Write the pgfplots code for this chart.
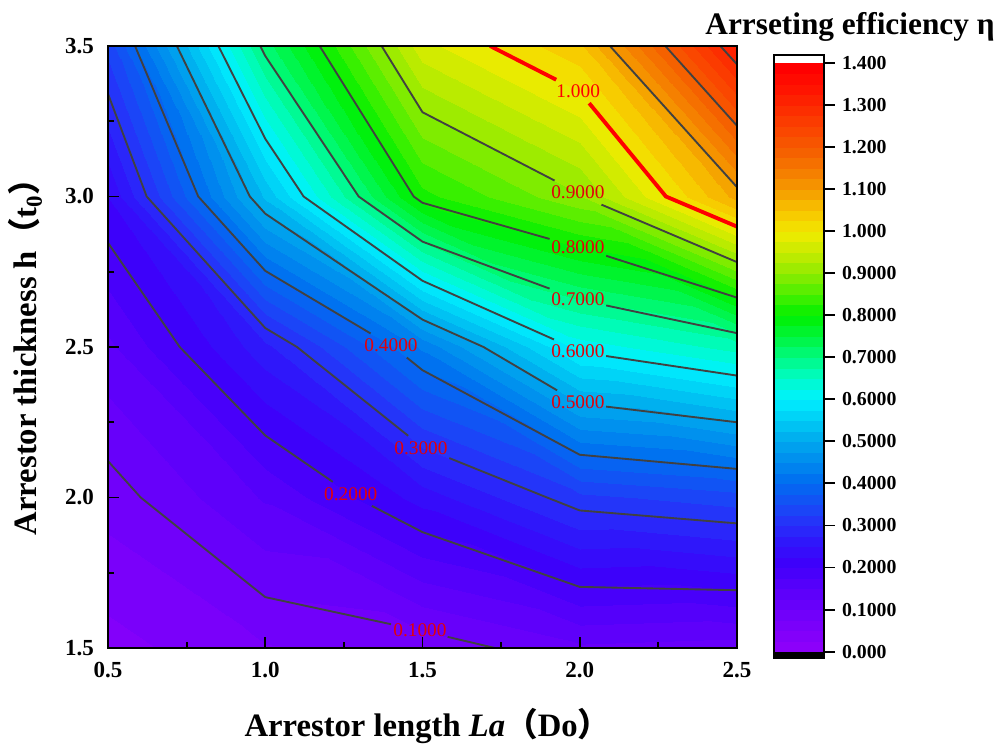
\documentclass[border=0pt]{standalone}
\usepackage{pgfplots}
\pgfplotsset{compat=1.18}
\usepackage{fontspec}
\setmainfont{Liberation Serif}
\newfontfamily\cjk{Noto Sans CJK SC}
\definecolor{clgray}{RGB}{65,65,65}
\definecolor{labred}{RGB}{225,0,10}
\pgfplotsset{
  colormap={origin}{
    rgb255=(140,0,250) rgb255=(122,0,250) rgb255=(104,0,250) rgb255=(85,0,250)
    rgb255=(62,0,250) rgb255=(48,20,250) rgb255=(38,50,250) rgb255=(20,80,245)
    rgb255=(0,110,240) rgb255=(0,140,238) rgb255=(0,170,238) rgb255=(0,205,245)
    rgb255=(0,240,255) rgb255=(0,252,200) rgb255=(0,250,130) rgb255=(0,245,60)
    rgb255=(0,240,0) rgb255=(70,240,0) rgb255=(140,235,0) rgb255=(195,235,0)
    rgb255=(240,235,0) rgb255=(248,200,0) rgb255=(245,160,0) rgb255=(245,125,0)
    rgb255=(245,95,0) rgb255=(250,70,0) rgb255=(252,45,0) rgb255=(255,20,0)
    rgb255=(255,0,0)
  },
  colormap={bands}{samples of colormap=(56 of origin)},
  cl/.style={color=clgray, line width=1.4pt, no marks},
}
\tikzset{clab/.style={text=labred, font=\fontsize{14.5}{16}\selectfont, inner sep=0pt}}
\begin{document}
\begin{tikzpicture}
\useasboundingbox (-81pt,-76.5pt) rectangle (672pt,486pt);
\begin{axis}[
  at={(0pt,0pt)}, anchor=south west,
  scale only axis, width=471.75pt, height=451.5pt,
  xmin=0.5, xmax=2.5, ymin=1.5, ymax=3.5,
  xtick={0.5,1.0,1.5,2.0,2.5}, ytick={1.5,2.0,2.5,3.0,3.5},
  minor x tick num=1, minor y tick num=1,
  xtick pos=left, ytick pos=left,
  tick align=inside,
  major tick length=8pt, minor tick length=4.5pt,
  every tick/.style={black, line width=1.4pt},
  axis line style={line width=2pt},
  axis on top,
  colormap name=bands, colormap access=piecewise constant,
  point meta min=0, point meta max=1.4,
  unbounded coords=jump,
  /pgf/number format/fixed, /pgf/number format/fixed zerofill,
  /pgf/number format/precision=1, /pgf/number format/assume math mode=true,
  tick label style={font=\bfseries\fontsize{17.25}{20}\selectfont},
  xticklabel style={yshift=-7pt},
  yticklabel style={xshift=-7pt},
  xlabel={Arrestor length \textit{La}{\cjk （}Do{\cjk ）}},
  ylabel={Arrestor thickness h{\cjk （}t\textsubscript{0}{\cjk ）}},
  label style={font=\bfseries\fontsize{24.5}{28}\selectfont},
  xlabel style={at={(axis description cs:0.508,-0.147)}, anchor=base},
  ylabel style={at={(axis description cs:-0.113,0.497)}, anchor=base},
]
\addplot[surf, shader=interp, mesh/cols=5, point meta=\thisrow{z}] table {
x y z
0.5 1.5 0.040
1.0 1.5 0.073
1.5 1.5 0.083
2.0 1.5 0.120
2.5 1.5 0.113
0.5 2.0 0.086
1.0 2.0 0.153
1.5 2.0 0.235
2.0 2.0 0.317
2.5 2.0 0.339
0.5 2.5 0.144
1.0 2.5 0.267
1.5 2.5 0.430
2.0 2.5 0.610
2.5 2.5 0.661
0.5 3.0 0.225
1.0 3.0 0.530
1.5 3.0 0.816
2.0 3.0 0.897
2.5 3.0 1.085
0.5 3.5 0.335
1.0 3.5 0.712
1.5 3.5 0.966
2.0 3.5 1.045
2.5 3.5 1.330
};
% contour lines (level 0.1 ... 1.3)
\addplot[cl] coordinates {(0.5,2.121) (0.604,2.0) (1.0,1.669) (1.40,1.579) (nan,nan) (1.58,1.537) (1.73,1.5)};
\addplot[cl] coordinates {(0.5,2.846) (0.728,2.5) (1.0,2.206) (1.2145,2.052) (nan,nan) (1.339,1.972) (1.5,1.885) (2.0,1.703) (2.5,1.692)};
\addplot[cl] coordinates {(0.5,3.341) (0.623,3.0) (1.0,2.563) (1.101,2.5) (1.4545,2.205) (nan,nan) (1.585,2.131) (1.896,2.0) (2.0,1.957) (2.5,1.914)};
\addplot[cl] coordinates {(0.586,3.5) (0.787,3.0) (1.0,2.753) (1.335,2.545) (nan,nan) (1.450,2.465) (1.5,2.423) (2.0,2.142) (2.5,2.095)};
\addplot[cl] coordinates {(0.719,3.5) (0.951,3.0) (1.0,2.943) (1.5,2.591) (1.694,2.5) (1.928,2.356) (nan,nan) (2.084,2.302) (2.5,2.25)};
\addplot[cl] coordinates {(0.851,3.5) (1.0,3.192) (1.122,3.0) (1.5,2.720) (1.918,2.525) (nan,nan) (2.084,2.470) (2.5,2.405)};
\addplot[cl] coordinates {(0.984,3.5) (1.0,3.467) (1.297,3.0) (1.5,2.850) (1.904,2.694) (nan,nan) (2.084,2.638) (2.5,2.546)};
\addplot[cl] coordinates {(1.173,3.5) (1.472,3.0) (1.5,2.979) (1.904,2.859) (nan,nan) (2.084,2.803) (2.5,2.664)};
\addplot[cl] coordinates {(1.370,3.5) (1.5,3.28) (1.920,3.053) (nan,nan) (2.069,2.973) (2.5,2.782)};
\addplot[color=red, line width=2.9pt, no marks] coordinates {(1.715,3.5) (1.925,3.388) (nan,nan) (2.030,3.31) (2.274,3.0) (2.5,2.9)};
\addplot[cl] coordinates {(2.096,3.5) (2.5,3.031)};
\addplot[cl] coordinates {(2.272,3.5) (2.5,3.235)};
\addplot[cl] coordinates {(2.447,3.5) (2.5,3.439)};
% contour labels
\node[clab] at (axis cs:1.492,1.558) {0.1000};
\node[clab] at (axis cs:1.272,2.012) {0.2000};
\node[clab] at (axis cs:1.495,2.165) {0.3000};
\node[clab] at (axis cs:1.400,2.505) {0.4000};
\node[clab] at (axis cs:1.994,2.316) {0.5000};
\node[clab] at (axis cs:1.994,2.485) {0.6000};
\node[clab] at (axis cs:1.994,2.659) {0.7000};
\node[clab] at (axis cs:1.994,2.833) {0.8000};
\node[clab] at (axis cs:1.994,3.013) {0.9000};
\node[clab, text=red] at (axis cs:1.995,3.350) {1.000};
\end{axis}
\begin{axis}[
  at={(499.5pt,-7.5pt)}, anchor=south west, scale only axis,
  width=37.5pt, height=452.25pt,
  xmin=0, xmax=1, ymin=-0.015, ymax=1.418,
  xtick=\empty,
  ytick={0,0.1,0.2,0.3,0.4,0.5,0.6,0.7,0.8,0.9,1.0,1.1,1.2,1.3,1.4},
  yticklabels={0.000,0.1000,0.2000,0.3000,0.4000,0.5000,0.6000,0.7000,0.8000,0.9000,1.000,1.100,1.200,1.300,1.400},
  ytick pos=right, yticklabel pos=right, tick align=outside, major tick length=8pt,
  every tick/.style={black, line width=1.4pt},
  axis line style={line width=2pt},
  yticklabel style={font=\bfseries\fontsize{14.85}{17}\selectfont, xshift=2pt},
  axis on top,
  colormap name=bands, colormap access=piecewise constant,
  point meta min=0, point meta max=1.4,
]
\addplot[surf, shader=interp, mesh/cols=2, point meta=\thisrow{c}] table {
x y c
0 0 0
1 0 0
0 1.4 1.4
1 1.4 1.4
};
\addplot[fill=black, draw=none] coordinates {(0,-0.015) (1,-0.015) (1,0) (0,0)} -- cycle;
\end{axis}
\node[font=\bfseries\fontsize{23.5}{27}\selectfont, anchor=base] at (556.5pt,459.75pt) {Arrseting efficiency η};
\end{tikzpicture}
\end{document}
